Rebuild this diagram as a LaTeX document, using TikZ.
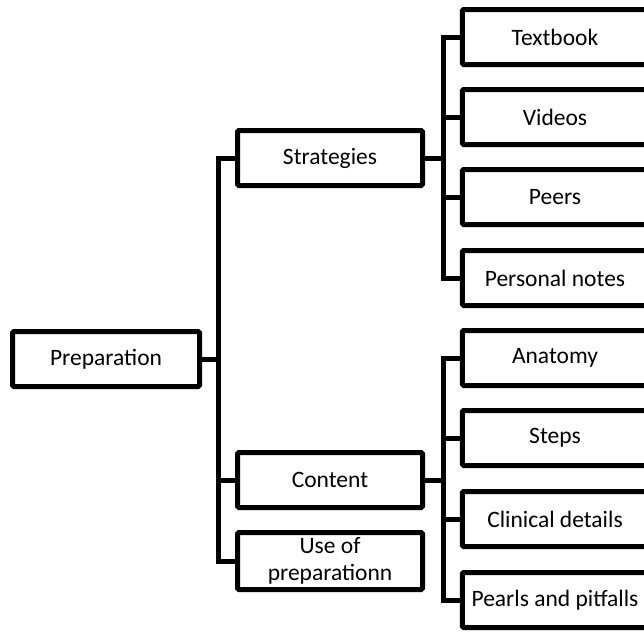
\documentclass[tikz,border=0pt]{standalone}
\usepackage{fontspec}
\setmainfont{Carlito}
\begin{document}
\begin{tikzpicture}[x=1pt,y=-1pt,
  box/.style={draw=black, line width=5pt, rounded corners=1.5pt, fill=white,
    inner sep=0pt, align=center, minimum height=55pt,
    font=\fontsize{23.5}{27}\selectfont},
  midbox/.style={box, minimum width=185pt},
  leafbox/.style={box, minimum width=185.5pt},
  link/.style={line width=5pt, line join=miter}]
\useasboundingbox (0,0) rectangle (644,632);
\clip (0,0) rectangle (644,632);

% root
\node[box, minimum width=187pt] (prep) at (106,359) {Preparation};

% second level
\node[midbox] (strat) at (330,158) {Strategies};
\node[midbox] (cont) at (330,480) {Content};
\node[midbox, minimum height=57pt] (use) at (330,561) {Use of\\preparationn};

% leaves under Strategies
\node[leafbox] (text) at (555,37) {Textbook};
\node[leafbox] (vid) at (555,117) {Videos};
\node[leafbox] (peer) at (555,197) {Peers};
\node[leafbox] (notes) at (555,278) {Personal notes};

% leaves under Content
\node[leafbox] (anat) at (555,358) {Anatomy};
\node[leafbox] (steps) at (555,438) {Steps};
\node[leafbox] (clin) at (555,519) {Clinical details};
\node[leafbox] (pearl) at (555,600) {Pearls and pitfalls};

% junction points of the trunks
\coordinate (jl) at (218,359);
\coordinate (jr1) at (443,158);
\coordinate (jr2) at (443,480);

% root to second level
\draw[link] (prep.east) -- (jl);
\draw[link] (strat.west) -| (jl) |- (cont.west);
\draw[link] (jl) |- (use.west);

% Strategies branch
\draw[link] (strat.east) -- (jr1);
\draw[link] (text.west) -| (jr1) |- (notes.west);
\draw[link] (jr1) |- (vid.west);
\draw[link] (jr1) |- (peer.west);

% Content branch
\draw[link] (cont.east) -- (jr2);
\draw[link] (anat.west) -| (jr2) |- (pearl.west);
\draw[link] (jr2) |- (steps.west);
\draw[link] (jr2) |- (clin.west);
\end{tikzpicture}
\end{document}
